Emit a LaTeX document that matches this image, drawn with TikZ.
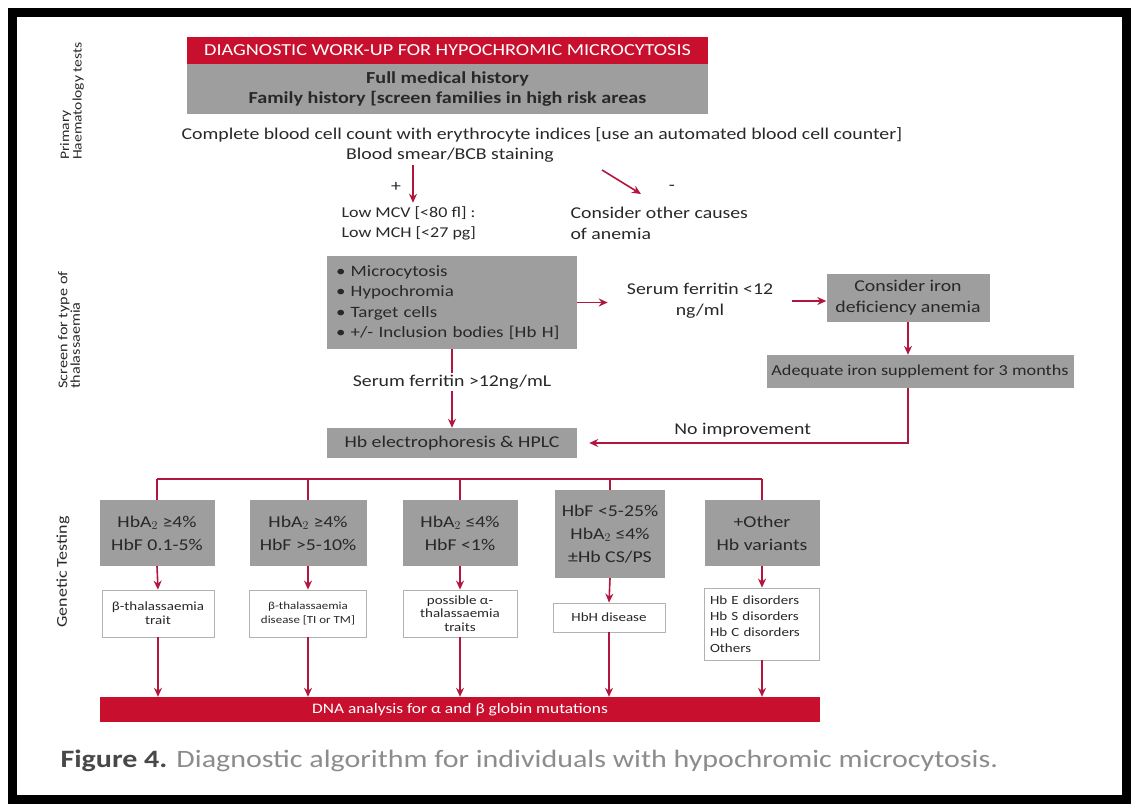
\documentclass[tikz,border=0pt]{standalone}
\usepackage{fontspec}
\setmainfont{Carlito}[FakeStretch=1.2]
\usetikzlibrary{arrows.meta,calc}
\definecolor{crim}{RGB}{200,16,46}
\definecolor{arrred}{RGB}{176,22,62}
\definecolor{boxgray}{RGB}{158,158,158}
\definecolor{ink}{RGB}{40,40,40}
\newcommand{\hba}{HbA$_2$}
\newcommand{\fs}[1]{\fontsize{#1}{#1}\selectfont}

\begin{document}
\begin{tikzpicture}[x=1pt,y=-1pt,
  every node/.style={text=ink,font=\fontsize{16.5}{21}\selectfont},
  redbar/.style={fill=crim,text=white,inner sep=0pt},
  graybox/.style={fill=boxgray,inner sep=0pt,align=center},
  whitebox/.style={draw=gray!60,line width=0.8pt,fill=white,inner sep=0pt,align=center,font=\fontsize{12.5}{14}\selectfont},
  side/.style={rotate=90,align=left,font=\fontsize{13}{12.5}\selectfont},
  arr/.style={draw=arrred,line width=1.6pt,-{Stealth[length=9pt,width=8pt]}},
  lin/.style={draw=arrred,line width=1.6pt}]
  \useasboundingbox (0,0) rectangle (1131,805);
  \draw[line width=9pt] (12.5,12.5) rectangle (1126.5,799.5);

  % primary tests
  \node[side] (lab1) at (72,101) {Primary\\Haematology tests};
  \node[redbar,minimum width=521,minimum height=27,font=\fs{16.8}] (title) at (447.5,50.5) {DIAGNOSTIC WORK-UP FOR HYPOCHROMIC MICROCYTOSIS};
  \node[graybox,minimum width=521,minimum height=50,font=\fontsize{16.8}{20}\bfseries\selectfont] (hist) at (447.5,89) {Full medical history\\Family history [screen families in high risk areas};
  \node (cbc) at (542,135) {Complete blood cell count with erythrocyte indices [use an automated blood cell counter]};
  \node (smear) at (450,155) {Blood smear/BCB staining};
  \node (plus) at (396,187) {+};
  \node (minus) at (672,188) {-};
  \node[anchor=west,align=left,font=\fontsize{15}{20}\selectfont] (low) at (338,223) {Low MCV [<80 fl] :\\Low MCH [<27 pg]};
  \node[anchor=west,align=left] (other) at (567,223) {Consider other causes\\of anemia};
  \coordinate (pos) at (413,165);
  \coordinate (neg) at (602,170);
  \coordinate (negend) at (641,194);
  \draw[arr] (pos) -- (pos |- low.north);
  \draw[arr] (neg) -- (negend);

  % screen for type
  \node[side,font=\fontsize{13.5}{12.5}\selectfont] (lab2) at (69,330) {Screen for type of\\thalassaemia};
  \node[graybox,minimum width=250,minimum height=93,text width=232,align=left,font=\fontsize{15.8}{20.5}\selectfont] (signs) at (452,302.5)
    {• Microcytosis\\• Hypochromia\\• Target cells\\• +/- Inclusion bodies [Hb H]};
  \node[align=center,inner xsep=19pt] (lowfer) at (700,301) {Serum ferritin <12\\ng/ml};
  \node[graybox,minimum width=163,minimum height=48] (iron) at (908,298) {Consider iron\\deficiency anemia};
  \node[graybox,minimum width=307,minimum height=33,font=\fs{15.2}] (supp) at (920,371.5) {Adequate iron supplement for 3 months};
  \node[graybox,minimum width=250,minimum height=30] (hplc) at (452,443) {Hb electrophoresis \& HPLC};
  \draw[arr] (signs.east) -- (signs.east -| lowfer.west);
  \draw[arr] (lowfer.east) -- (lowfer.east -| iron.west);
  \draw[arr] (iron.south) -- (iron.south |- supp.north);
  \draw[arr,shorten >=12pt] (iron.south |- supp.south) |- node[pos=0.75,above=2pt] {No improvement} (hplc.east);
  \draw[arr] (signs.south) -- node[pos=0.42,fill=white,inner sep=2pt] {Serum ferritin >12ng/mL} (hplc.north);

  % genetic testing
  \node[side,font=\fs{15}] (lab3) at (63,572) {Genetic Testing};
  \coordinate (fork) at (452,479);
  \node[graybox,minimum width=115,minimum height=66,font=\fontsize{16.5}{23}\selectfont] (t1) at (157,533) {\hba\ ≥4\%\\HbF 0.1-5\%};
  \node[graybox,minimum width=117,minimum height=66,font=\fontsize{16.5}{23}\selectfont] (t2) at (308,533) {\hba\ ≥4\%\\HbF >5-10\%};
  \node[graybox,minimum width=115,minimum height=66,font=\fontsize{16.5}{23}\selectfont] (t3) at (460,533) {\hba\ ≤4\%\\HbF <1\%};
  \node[graybox,minimum width=110,minimum height=88,font=\fontsize{16.5}{23}\selectfont] (t4) at (610,534) {HbF <5-25\%\\\hba\ ≤4\%\\±Hb CS/PS};
  \node[graybox,minimum width=115,minimum height=66,font=\fontsize{16.5}{23}\selectfont] (t5) at (762,533) {+Other\\Hb variants};
  \node[whitebox,minimum width=112,minimum height=47] (r1) at (158,613.5) {β-thalassaemia\\trait};
  \node[whitebox,minimum width=117,minimum height=47,font=\fontsize{10.8}{14}\selectfont] (r2) at (308,613.5) {β-thalassaemia\\disease [TI or TM]};
  \node[whitebox,minimum width=114,minimum height=47,font=\fontsize{12.5}{13.5}\selectfont] (r3) at (460,613.5) {possible α-\\thalassaemia\\traits};
  \node[whitebox,minimum width=112,minimum height=29] (r4) at (609,617.5) {HbH disease};
  \node[whitebox,minimum width=115,minimum height=72,text width=104,align=left,font=\fontsize{12.5}{16}\selectfont] (r5) at (762,624) {Hb E disorders\\Hb S disorders\\Hb C disorders\\Others};
  \node[redbar,minimum width=720,minimum height=25,font=\fs{14.5}] (dna) at (460,709.5) {DNA analysis for α and β globin mutations};
  \draw[lin] (fork -| t1.north) -- (fork -| t5.north);
  \foreach \i in {1,...,5} {
    \draw[lin] (fork -| t\i.north) -- (t\i.north);
    \draw[arr] (t\i.south) -- (r\i.north);
    \draw[arr] (r\i.south) -- (r\i.south |- dna.north);
  }

  \node[anchor=west,text=gray!90,font=\fs{25}] (cap) at (57,761) {\textbf{\textcolor{ink!85}{Figure 4.}} Diagnostic algorithm for individuals with hypochromic microcytosis.};
\end{tikzpicture}
\end{document}
